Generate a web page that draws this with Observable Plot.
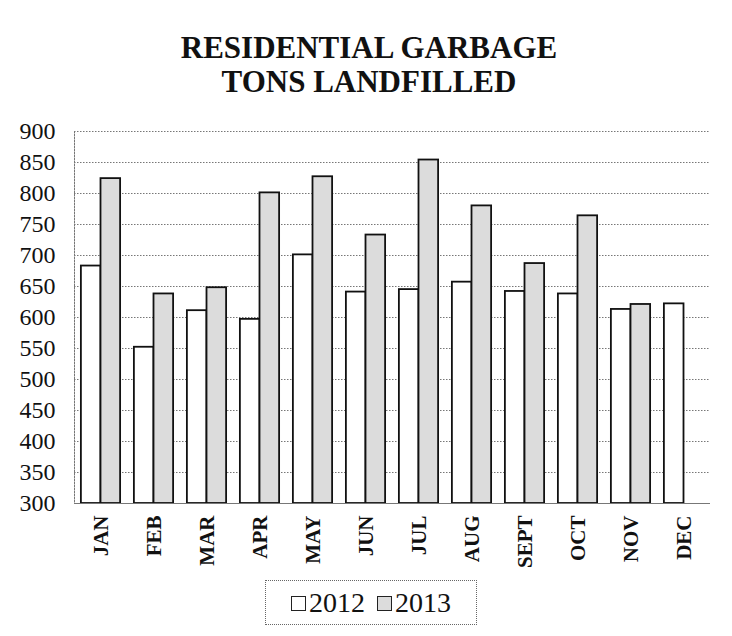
<!DOCTYPE html>
<html>
<head>
<meta charset="utf-8">
<script src="https://cdn.jsdelivr.net/npm/d3@7"></script>
<script src="https://cdn.jsdelivr.net/npm/@observablehq/plot@0.6"></script>
<style>
  html, body { margin: 0; padding: 0; background: #fff; }
  body { width: 732px; height: 636px; overflow: hidden; font-family: "Liberation Serif", serif; }
  #title { height: 110px; box-sizing: border-box; padding-top: 31px; text-align: center;
           font-weight: bold; font-size: 31px; line-height: 34px; color: #111; padding-left: 6px; }
  #legend { position: absolute; left: 265px; top: 580px; width: 212px; height: 45px; box-sizing: border-box;
            border: 1px dotted #666; font-size: 28px; line-height: 43px; color: #111; text-align: center; }
  .sw { display: inline-block; width: 13px; height: 13px; border: 1.5px solid #222; vertical-align: 1px; margin-right: 3px; }
  .gap { display: inline-block; width: 12px; }
  #chart svg, #chart svg text { font-family: "Liberation Serif", serif !important; }
</style>
</head>
<body>
<div id="title">RESIDENTIAL GARBAGE<br>TONS LANDFILLED</div>
<div id="chart"></div>
<div id="legend"><span class="sw" style="background:#fff"></span>2012<span class="gap"></span><span class="sw" style="background:#dcdcdc"></span>2013</div>
<script>
const months = ["JAN","FEB","MAR","APR","MAY","JUN","JUL","AUG","SEPT","OCT","NOV","DEC"];
const tons2012 = [683, 552, 611, 597, 701, 641, 645, 657, 642, 638, 613, 622];
const tons2013 = [824, 638, 648, 801, 827, 733, 854, 780, 687, 764, 621, null];
const yTicks = [300, 350, 400, 450, 500, 550, 600, 650, 700, 750, 800, 850, 900];
const series = ["2012", "2013"];
const fills = ["#ffffff", "#dcdcdc"];

const rows2012 = months.map((m, i) => ({month: m, year: series[0], tons: tons2012[i]}));
const rows2013 = months.map((m, i) => ({month: m, year: series[1], tons: tons2013[i]})).filter(d => d.tons != null);

const width = 732, marginLeft = 74, marginRight = 22;
const pInner = 0.26, pOuter = 0.13;
const step = (width - marginLeft - marginRight) / (months.length - pInner + 2 * pOuter);
const half = step * (1 - pInner) / 2;
const serif = "'Liberation Serif', serif";

const chart = Plot.plot({
  width,
  height: 458,
  marginLeft,
  marginRight,
  marginTop: 21,
  marginBottom: 65,
  style: {fontFamily: serif, color: "#111", background: "transparent"},
  x: {type: "band", domain: months, paddingInner: pInner, paddingOuter: pOuter, round: false, label: null},
  y: {domain: [300, 900], label: null},
  marks: [
    Plot.gridY(yTicks, {stroke: "#777", strokeOpacity: 1, strokeDasharray: "1.5,1.5"}),
    Plot.frame({anchor: "left", stroke: "#777", strokeDasharray: "1.5,1.5"}),
    Plot.barY(rows2012, {x: "month", y1: 300, y2: "tons", fill: fills[0], stroke: "#111", strokeWidth: 1.8, insetRight: half}),
    Plot.barY(rows2013, {x: "month", y1: 300, y2: "tons", fill: fills[1], stroke: "#111", strokeWidth: 1.8, insetLeft: half}),
    Plot.ruleY([300], {stroke: "#777"}),
    Plot.axisY({ticks: yTicks, tickSize: 0, tickPadding: 19, fontSize: 24, fontFamily: serif, label: null}),
    Plot.axisX({tickSize: 0, tickPadding: 12, tickRotate: -90, fontSize: 21, fontWeight: "bold", fontFamily: serif, label: null})
  ]
});
document.getElementById("chart").appendChild(chart);
</script>
</body>
</html>
